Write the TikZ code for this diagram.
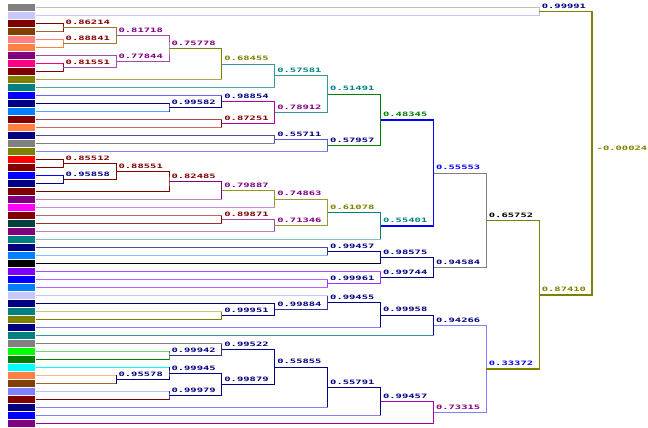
\documentclass[tikz,border=0pt]{standalone}
\usepackage{fontspec}
\usepackage{graphicx}
\newfontfamily\lblfont{DejaVu Sans Mono}
\definecolor{cgray}{RGB}{128,128,128}
\definecolor{clav}{RGB}{200,200,255}
\definecolor{cmaroon}{RGB}{128,0,0}
\definecolor{cbrown}{RGB}{128,64,0}
\definecolor{cpink}{RGB}{255,128,128}
\definecolor{corange}{RGB}{255,128,64}
\definecolor{cpurple}{RGB}{128,0,128}
\definecolor{cdpink}{RGB}{255,0,128}
\definecolor{colive}{RGB}{128,128,0}
\definecolor{cteal}{RGB}{0,128,128}
\definecolor{cblue}{RGB}{0,0,255}
\definecolor{cnavy}{RGB}{0,0,128}
\definecolor{cazure}{RGB}{0,128,255}
\definecolor{cred}{RGB}{255,0,0}
\definecolor{cmagenta}{RGB}{255,0,255}
\definecolor{cdteal}{RGB}{0,64,64}
\definecolor{cblack}{RGB}{0,0,0}
\definecolor{cviolet}{RGB}{128,0,255}
\definecolor{clime}{RGB}{0,255,0}
\definecolor{cgreen}{RGB}{0,128,0}
\definecolor{ccyan}{RGB}{0,255,255}
\definecolor{cperi}{RGB}{128,128,255}
\definecolor{clpurple}{RGB}{200,140,220}
\definecolor{ckhaki}{RGB}{200,200,120}
\definecolor{csalmon}{RGB}{200,110,100}
\definecolor{clgreen}{RGB}{120,210,120}
\newcommand\numtxt[1]{\scalebox{1.75}[1]{\lblfont\bfseries\fontsize{6}{6}\selectfont #1}}
\tikzset{
  leafbox/.style={draw=none, inner sep=0pt, minimum width=27.5pt, minimum height=6.8pt},
  lbl/.style={anchor=base west, inner sep=0pt, xshift=2pt, yshift=3.3pt},
}
% #1 name, #2 x, #3 y, #4 child1, #5 child2, #6 line colour, #7 width, #8 text colour, #9 label
\newcommand\mrg[9]{%
  \coordinate (#1) at (#2,#3);
  \draw[#6, line width=#7] (#4) -| (#1) |- (#5);
  \node[lbl, text=#8] (t#1) at (#1) {\numtxt{#9}};
}
\begin{document}
\begin{tikzpicture}[x=1pt,y=-1pt,line width=1pt]
\path[use as bounding box] (0,0) rectangle (648,428);
% leaves
\foreach \i/\fc in {1/cgray,2/clav,3/cmaroon,4/cbrown,5/cpink,6/corange,7/cpurple,8/cdpink,9/cmaroon,10/colive,
  11/cteal,12/cblue,13/cnavy,14/cazure,15/cmaroon,16/corange,17/cnavy,18/cgray,19/colive,20/cred,
  21/cmaroon,22/cblue,23/cnavy,24/cmaroon,25/cpurple,26/cmagenta,27/cmaroon,28/cdteal,29/cpurple,30/cteal,
  31/cnavy,32/cazure,33/cblack,34/cviolet,35/cblue,36/cazure,37/clav,38/cnavy,39/cteal,40/colive,
  41/cnavy,42/cteal,43/cgray,44/clime,45/cgreen,46/ccyan,47/corange,48/cbrown,49/cperi,50/cmaroon,
  51/cnavy,52/cblue,53/cpurple}{
  \pgfmathsetmacro\yy{7.7+8*(\i-1)}
  \node[leafbox, fill=\fc] (L\i) at (21.25,\yy) {};
}
% merges
\mrg{a34}{63.2}{27.7}{L3.east}{L4.east}{cmaroon!60!cbrown}{1pt}{cmaroon}{0.86214}
\mrg{a56}{63.2}{43.7}{L5.east}{L6.east}{corange}{1pt}{cmaroon}{0.88841}
\mrg{a89}{63.2}{67.7}{L8.east}{L9.east}{cmaroon!70!cdpink}{1pt}{cmaroon}{0.81551}
\mrg{a36}{116.1}{35.7}{a34}{a56}{cbrown!60!ckhaki}{1pt}{cpurple}{0.81718}
\mrg{a79}{116.1}{61.7}{L7.east}{a89}{cpurple!70}{1pt}{cpurple}{0.77844}
\mrg{a39}{169.0}{48.7}{a36}{a79}{cpurple!70}{1pt}{cpurple}{0.75778}
\mrg{a310}{221.9}{64.2}{a39}{L10.east}{colive}{1pt}{colive}{0.68455}
\mrg{a311}{274.8}{75.95}{a310}{L11.east}{cteal!80}{1pt}{cteal}{0.57581}
\mrg{a1314}{169.0}{107.7}{L13.east}{L14.east}{cnavy!80}{1pt}{cnavy}{0.99582}
\mrg{a1214}{221.9}{101.7}{L12.east}{a1314}{cnavy}{1pt}{cnavy}{0.98854}
\mrg{a1516}{221.9}{123.7}{L15.east}{L16.east}{cmaroon}{1pt}{cmaroon}{0.87251}
\mrg{a1216}{274.8}{112.7}{a1214}{a1516}{cpurple!70!cmagenta}{1pt}{cpurple}{0.78912}
\mrg{a316}{327.7}{94.3}{a311}{a1216}{cteal!80}{1pt}{cteal}{0.51491}
\mrg{a1718}{274.8}{139.7}{L17.east}{L18.east}{cperi!60!cnavy}{1pt}{cnavy}{0.55711}
\mrg{a1719}{327.7}{145.7}{a1718}{L19.east}{cperi!70!cnavy}{1pt}{cnavy}{0.57957}
\mrg{a319}{380.6}{120}{a316}{a1719}{cgreen}{1.5pt}{cgreen}{0.48345}
\mrg{a2021}{63.2}{163.7}{L20.east}{L21.east}{cmaroon}{1pt}{cmaroon}{0.85512}
\mrg{a2223}{63.2}{179.7}{L22.east}{L23.east}{cnavy}{1pt}{cnavy}{0.95858}
\mrg{a2023}{116.1}{171.7}{a2021}{a2223}{cmaroon}{1pt}{cmaroon}{0.88551}
\mrg{a2024}{169.0}{181.7}{a2023}{L24.east}{cmaroon}{1pt}{cmaroon}{0.82485}
\mrg{a2025}{221.9}{190.7}{a2024}{L25.east}{cpurple}{1pt}{cpurple}{0.79887}
\mrg{a2026}{274.8}{199.2}{a2025}{L26.east}{colive!70!ckhaki}{1pt}{cpurple}{0.74863}
\mrg{a2728}{221.9}{219.7}{L27.east}{L28.east}{cmaroon}{1pt}{cmaroon}{0.89871}
\mrg{a2729}{274.8}{225.7}{a2728}{L29.east}{cpurple!70}{1pt}{cpurple}{0.71346}
\mrg{a2029}{327.7}{212.45}{a2026}{a2729}{colive!80}{1pt}{colive}{0.61078}
\mrg{a2030}{380.6}{226.1}{a2029}{L30.east}{cteal}{1pt}{cteal}{0.55401}
\mrg{a330}{433.5}{173}{a319}{a2030}{cblue}{1.6pt}{cblue}{0.55553}
\mrg{a3132}{327.7}{251.7}{L31.east}{L32.east}{cnavy!80}{1pt}{cnavy}{0.99457}
\mrg{a3133}{380.6}{257.7}{a3132}{L33.east}{cnavy}{1pt}{cnavy}{0.98575}
\mrg{a3536}{327.7}{283.7}{L35.east}{L36.east}{cviolet!80}{1pt}{cnavy}{0.99961}
\mrg{a3436}{380.6}{277.7}{L34.east}{a3536}{cviolet!80}{1pt}{cnavy}{0.99744}
\mrg{a3136}{433.5}{267.7}{a3133}{a3436}{cnavy}{1pt}{cnavy}{0.94584}
\mrg{a336}{486.4}{220.35}{a330}{a3136}{cgray}{1pt}{cblack}{0.65752}
\mrg{a3940}{221.9}{315.7}{L39.east}{L40.east}{colive}{1pt}{cnavy}{0.99951}
\mrg{a3840}{274.8}{309.7}{L38.east}{a3940}{cnavy}{1pt}{cnavy}{0.99884}
\mrg{a3740}{327.7}{302.7}{L37.east}{a3840}{cnavy!80}{1pt}{cnavy}{0.99455}
\mrg{a3741}{380.6}{315.2}{a3740}{L41.east}{cnavy}{1pt}{cnavy}{0.99958}
\mrg{a3742}{433.5}{325.45}{a3741}{L42.east}{cnavy}{1pt}{cnavy}{0.94266}
\mrg{a4445}{169.0}{355.7}{L44.east}{L45.east}{cgreen!80}{1pt}{cnavy}{0.99942}
\mrg{a4345}{221.9}{349.7}{L43.east}{a4445}{cnavy!60!cgray}{1pt}{cnavy}{0.99522}
\mrg{a4748}{116.1}{379.7}{L47.east}{L48.east}{cnavy}{1pt}{cnavy}{0.95578}
\mrg{a4648}{169.0}{373.7}{L46.east}{a4748}{cnavy}{1pt}{cnavy}{0.99945}
\mrg{a4950}{169.0}{395.7}{L49.east}{L50.east}{cnavy!70!cperi}{1pt}{cnavy}{0.99979}
\mrg{a4650}{221.9}{384.7}{a4648}{a4950}{cnavy}{1pt}{cnavy}{0.99879}
\mrg{a4350}{274.8}{367.2}{a4345}{a4650}{cnavy}{1pt}{cnavy}{0.55855}
\mrg{a4351}{327.7}{387.45}{a4350}{L51.east}{cnavy}{1pt}{cnavy}{0.55791}
\mrg{a4352}{380.6}{401.6}{a4351}{L52.east}{cnavy}{1pt}{cnavy}{0.99457}
\mrg{a4353}{433.5}{412.6}{a4352}{L53.east}{cpurple!70!cmagenta}{1pt}{cpurple}{0.73315}
\mrg{a3753}{486.4}{369}{a3742}{a4353}{cperi}{1pt}{cblue}{0.33372}
\mrg{a353}{539.3}{294.7}{a336}{a3753}{colive}{1.3pt}{colive}{0.87410}
\mrg{a12}{539.3}{11.7}{L1.east}{L2.east}{cgray!50}{1pt}{cnavy}{0.99991}
\coordinate (root) at (592.2,153.2);
\draw[colive, line width=1.6pt] (a12) -| (root) |- (a353);
\node[anchor=west, inner sep=0pt, xshift=4pt, yshift=4.5pt, text=colive] (troot) at (root) {\numtxt{-0.00024}};
% leaf lines
\foreach \i/\lc/\p in {1/cgray!50/a12,2/clav/a12,3/cmaroon/a34,4/cbrown!80/a34,5/cpink/a56,6/corange/a56,
  7/cpurple!70/a79,8/cdpink/a89,9/cmaroon/a89,10/colive!70/a310,11/cteal!70/a311,12/cblue!60/a1214,
  13/cnavy/a1314,14/cazure!70/a1314,15/cmaroon!70/a1516,16/csalmon/a1516,17/cnavy!70/a1718,18/cgray/a1718,
  19/cperi/a1719,20/cmaroon/a2021,21/cmaroon/a2021,22/cblue/a2223,23/cnavy/a2223,24/cmaroon/a2024,
  25/cpurple!50/a2025,26/clpurple/a2026,27/cmaroon!60/a2728,28/cmaroon!80/a2728,29/cpurple!50/a2729,
  30/cteal!50/a2030,31/cnavy!70/a3132,32/cazure!50/a3132,33/cblack/a3133,34/cviolet!70/a3436,
  35/cviolet!60/a3536,36/cviolet!60/a3536,37/clav/a3740,38/cnavy/a3840,39/ckhaki/a3940,40/colive/a3940,
  41/cperi/a3741,42/cteal!80/a3742,43/cgray/a4345,44/clgreen/a4445,45/cgreen/a4445,46/ccyan/a4648,
  47/corange!60/a4748,48/cbrown!80/a4748,49/cperi!50/a4950,50/cmaroon/a4950,51/cperi/a4351,
  52/cperi/a4352,53/cpurple!80!cmagenta/a4353}{
  \draw[\lc] (L\i.east) -- (L\i.east -| \p);
}
\end{tikzpicture}
\end{document}
